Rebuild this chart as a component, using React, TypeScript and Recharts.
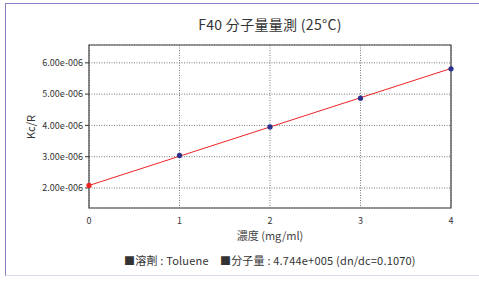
import {
  ComposedChart, Line, Scatter, Cell, XAxis, YAxis, CartesianGrid, ReferenceArea,
} from "recharts";

const concentrations = [0, 1, 2, 3, 4];
const kcr = [2.08e-6, 3.04e-6, 3.95e-6, 4.87e-6, 5.81e-6];
const pointColors = ["#ee2222", "#2b2f8c", "#2b2f8c", "#2b2f8c", "#2b2f8c"];
const fitX = [0, 4];
const fitY = [2.08e-6, 5.82e-6];
const xTicks = [0, 1, 2, 3, 4];
const yTicks = [2e-6, 3e-6, 4e-6, 5e-6, 6e-6];
const yDomain: [number, number] = [1.36e-6, 6.57e-6];

const title = "F40 分子量量測 (25°C)";
const xLabel = "濃度 (mg/ml)";
const yLabel = "Kc/R";
const footer = "■溶劑 : Toluene　■分子量 : 4.744e+005 (dn/dc=0.1070)";

const FONT = "'Noto Sans CJK JP', 'Noto Sans', sans-serif";

const points = concentrations.map((x, i) => ({ x, y: kcr[i] }));
const fitLine = fitX.map((x, i) => ({ x, y: fitY[i] }));

function fmtExp(v: number) {
  const [m, e] = v.toExponential(2).split("e");
  const n = Math.abs(parseInt(e, 10));
  const sign = parseInt(e, 10) < 0 ? "-" : "+";
  return `${m}e${sign}${String(n).padStart(3, "0")}`;
}

export default function App() {
  return (
    <div style={{ position: "absolute", left: 0, top: 0, width: 479, height: 281, background: "#fff", fontFamily: FONT }}>
      <div style={{
        position: "absolute", left: 5, top: 3, width: 480, height: 271,
        borderLeft: "1px solid #8a82c2", borderTop: "1px solid #8a82c2",
        borderBottom: "1px solid #dcd9f0",
      }} />
      <div style={{ position: "absolute", left: 0, top: 0 }}>
        <ComposedChart width={479} height={281} margin={{ top: 45, right: 28, bottom: 43, left: 0 }}>
          <CartesianGrid stroke="#777" strokeDasharray="1 1.5" />
          <XAxis
            type="number" dataKey="x" domain={[0, 4]} ticks={xTicks}
            height={30} tickLine={false} axisLine={false}
            tick={{ fontSize: 9, fill: "#333", fontFamily: FONT }} tickMargin={4}
          />
          <YAxis
            type="number" dataKey="y" domain={yDomain} ticks={yTicks} width={89}
            tickFormatter={fmtExp} axisLine={false} tickSize={4} stroke="#333"
            tick={{ fontSize: 9, fill: "#333", fontFamily: FONT }}
          />
          <ReferenceArea x1={0} x2={4} y1={yDomain[0]} y2={yDomain[1]} fill="none" stroke="#444" strokeWidth={1.2} ifOverflow="visible" />
          <Line data={fitLine} dataKey="y" stroke="#ee2222" strokeWidth={1} dot={false} isAnimationActive={false} />
          <Scatter data={points} dataKey="y" isAnimationActive={false} shape={(p: any) => <circle cx={p.cx} cy={p.cy} r={2.6} fill={p.fill} />}>
            {points.map((_, i) => <Cell key={i} fill={pointColors[i]} />)}
          </Scatter>
        </ComposedChart>
      </div>
      <div style={{ position: "absolute", left: 89, width: 362, top: 14, textAlign: "center", fontSize: 14, color: "#333", letterSpacing: 0.3 }}>
        {title}
      </div>
      <div style={{ position: "absolute", left: 89, width: 362, top: 227, textAlign: "center", fontSize: 11, color: "#444" }}>
        {xLabel}
      </div>
      <div style={{
        position: "absolute", left: 30, top: 127, transform: "translate(-50%, -50%) rotate(-90deg)",
        fontSize: 11, color: "#333", whiteSpace: "nowrap",
      }}>
        {yLabel}
      </div>
      <div style={{ position: "absolute", left: 124, top: 252, fontSize: 11, color: "#333", whiteSpace: "nowrap", letterSpacing: 0.2 }}>
        {footer}
      </div>
    </div>
  );
}
